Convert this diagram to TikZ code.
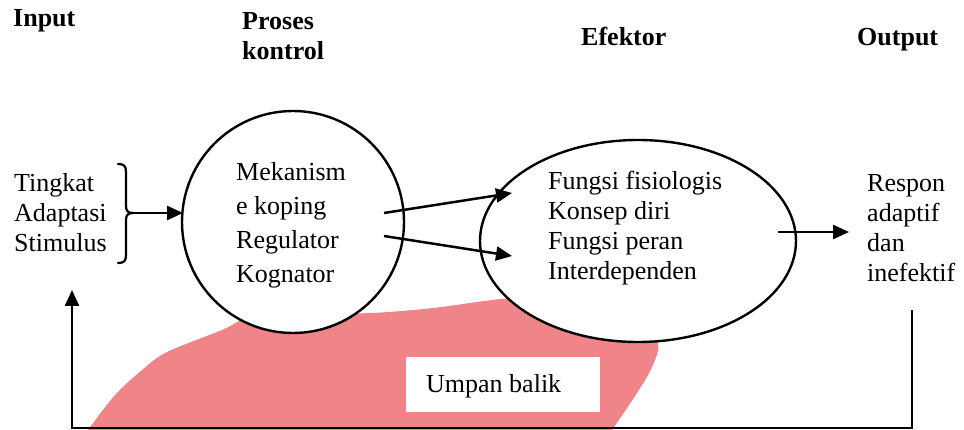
\documentclass[tikz,border=0pt]{standalone}
\usepackage{fontspec}
\setmainfont{Liberation Serif}
\usetikzlibrary{arrows.meta,shapes.geometric}
\definecolor{blobred}{RGB}{240,133,137}
\begin{document}
\begin{tikzpicture}[x=1pt,y=-1pt,
  txt/.style={anchor=base west,inner sep=0pt,align=left,font=\fontsize{26}{30}\selectfont},
  txtwide/.style={anchor=base west,inner sep=0pt,align=left,font=\fontsize{26}{34}\selectfont},
  hdr/.style={anchor=base west,inner sep=0pt,align=left,font=\fontsize{26}{30}\selectfont\bfseries},
  conn/.style={line width=2.5pt,-{Triangle[length=16pt,width=14pt]}},
  plain/.style={line width=2.2pt},
  bubble/.style={draw,line width=2.4pt,fill=white}]
\useasboundingbox (0,0) rectangle (964,430);

% feedback blob
\fill[blobred] plot[smooth,tension=0.55] coordinates {(88,430) (115,395) (142,370) (167,352) (222,330) (247,318) (284,315) (371,313) (433,308) (513,298) (580,300) (640,320) (658,343) (652,367) (637,393) (612,430)} -- cycle;

% headers (base anchor = last line)
\node[hdr] (hin) at (13,27) {Input};
\node[hdr] (hproc) at (242,60) {Proses\\kontrol};
\node[hdr] (heff) at (581,46) {Efektor};
\node[hdr] (hout) at (857,46) {Output};

% shapes
\node[bubble,circle,minimum size=222pt,inner sep=0pt] (c1) at (293,222) {};
\node[bubble,ellipse,minimum width=316pt,minimum height=202pt,inner sep=0pt] (c2) at (638,241) {};

% texts (base anchor = last line)
\node[txt] (tin) at (14,252) {Tingkat\\Adaptasi\\Stimulus};
\node[txtwide] (tproc) at (236,283) {Mekanism\\e koping\\Regulator\\Kognator};
\node[txt] (teff) at (548,280) {Fungsi fisiologis\\Konsep diri\\Fungsi peran\\Interdependen};
\node[txt] (tout) at (867,282) {Respon\\adaptif\\dan\\inefektif};

% brace
\draw[plain,line cap=round] (118,164) .. controls (124,164) and (126,166) .. (126,172) -- (126,206) .. controls (126,211) and (128,213) .. (133,213) .. controls (128,213) and (126,215) .. (126,220) -- (126,255) .. controls (126,261) and (124,263) .. (118,263);

% coordinates for connectors
\coordinate (brtip) at (133,213);
\coordinate (c1in) at (183,213);
\coordinate (a1s) at (384,213);
\coordinate (a1e) at (512,193);
\coordinate (a2s) at (384,236);
\coordinate (a2e) at (512,256);
\coordinate (a3s) at (778,232);
\coordinate (a3e) at (849,232);
\coordinate (fbtop) at (912,310);
\coordinate (fbr) at (912,428);
\coordinate (fbl) at (72,428);
\coordinate (fbend) at (72,290);

\draw[conn] (brtip) -- (c1in);
\draw[conn] (a1s) -- (a1e);
\draw[conn] (a2s) -- (a2e);
\draw[conn] (a3s) -- (a3e);
\draw[conn] (fbtop) -- (fbr) -- (fbl) -- (fbend);

% feedback label
\node[fill=white,minimum width=194pt,minimum height=55pt,inner sep=0pt] (fbbox) at (503,384.5) {};
\node[txt] (fblab) at (426,392) {Umpan balik};
\end{tikzpicture}
\end{document}
